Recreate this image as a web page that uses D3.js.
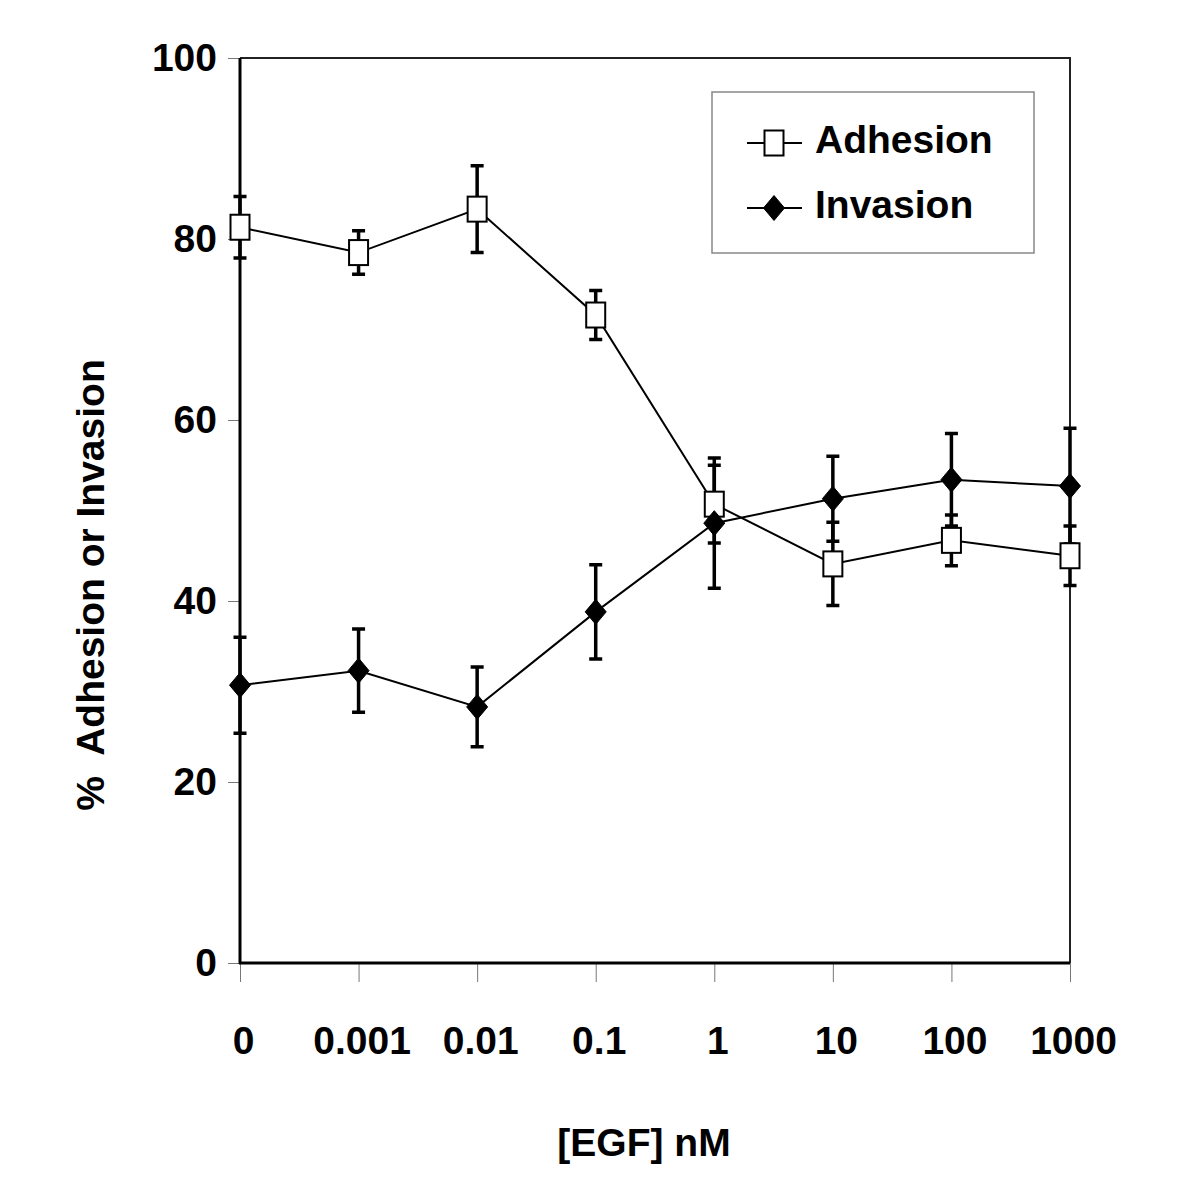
<!DOCTYPE html>
<html>
<head>
<meta charset="utf-8">
<script src="https://cdn.jsdelivr.net/npm/d3@7/dist/d3.min.js"></script>
<style>
  html, body { margin: 0; padding: 0; background: #fff; }
  svg text { font-family: "Liberation Sans", Arial, sans-serif; font-weight: bold; fill: #000; }
</style>
</head>
<body>
<svg id="chart" width="1200" height="1200"></svg>
<script>
// ---- data ----
const categories = ["0", "0.001", "0.01", "0.1", "1", "10", "100", "1000"];
const adhesion = [81.3, 78.5, 83.3, 71.6, 50.7, 44.1, 46.7, 45.0];
const adhesionErr = [3.4, 2.4, 4.8, 2.7, 4.3, 4.6, 2.8, 3.3];
const invasion = [30.7, 32.3, 28.3, 38.8, 48.6, 51.3, 53.4, 52.7];
const invasionErr = [5.3, 4.6, 4.4, 5.2, 7.2, 4.7, 5.1, 6.4];
const yTicks = [0, 20, 40, 60, 80, 100];
const seriesNames = ["Adhesion", "Invasion"];
const xTitle = "[EGF] nM";
const yTitle = "%  Adhesion or Invasion";

// ---- layout ----
const svg = d3.select("#chart");
const pLeft = 240, pRight = 1070, pTop = 58, pBottom = 963;

const x = d3.scalePoint().domain(categories).range([pLeft, pRight]).padding(0);
const y = d3.scaleLinear().domain([0, 100]).range([pBottom, pTop]);

// frame top/right
svg.append("path")
  .attr("d", `M${pLeft},${pTop}H${pRight}V${pBottom}`)
  .attr("fill", "none").attr("stroke", "#222").attr("stroke-width", 2);

// y axis
const yAxis = svg.append("g").attr("transform", `translate(${pLeft},0)`)
  .call(d3.axisLeft(y).tickValues(yTicks).tickSize(12).tickPadding(11));
yAxis.select(".domain").remove();
yAxis.selectAll(".tick line").attr("stroke", "#777").attr("stroke-width", 1);
yAxis.selectAll(".tick text").attr("font-size", 39).attr("font-family", null).attr("fill", "#000");

// x axis
const xAxis = svg.append("g").attr("transform", `translate(0,${pBottom})`)
  .call(d3.axisBottom(x).tickSize(19).tickPadding(44));
xAxis.select(".domain").remove();
xAxis.selectAll(".tick line").attr("stroke", "#777").attr("stroke-width", 1);
xAxis.selectAll(".tick text").attr("font-size", 39).attr("font-family", null).attr("fill", "#000").attr("dx", 3);

// main axis lines
svg.append("line").attr("x1", pLeft).attr("x2", pLeft).attr("y1", pTop).attr("y2", pBottom + 1)
  .attr("stroke", "#000").attr("stroke-width", 3);
svg.append("line").attr("x1", pLeft - 1).attr("x2", pRight).attr("y1", pBottom).attr("y2", pBottom)
  .attr("stroke", "#000").attr("stroke-width", 3);

// titles
svg.append("text").attr("x", 644).attr("y", 1156).attr("text-anchor", "middle")
  .attr("font-size", 39).text(xTitle);
svg.append("text").attr("transform", "translate(104,585) rotate(-90)")
  .attr("text-anchor", "middle").attr("font-size", 39)
  .style("white-space", "pre").text(yTitle);

// ---- series ----
const dataA = categories.map((c, i) => ({ c, v: adhesion[i], e: adhesionErr[i] }));
const dataI = categories.map((c, i) => ({ c, v: invasion[i], e: invasionErr[i] }));

const line = d3.line().x(d => x(d.c)).y(d => y(d.v));
[dataA, dataI].forEach(data => {
  svg.append("path").datum(data).attr("d", line)
    .attr("fill", "none").attr("stroke", "#000").attr("stroke-width", 2);
});

// error bars
const capW = 13;
[dataA, dataI].forEach(data => {
  const g = svg.append("g").attr("stroke", "#000").attr("stroke-width", 3.5).attr("fill", "none");
  data.forEach(d => {
    const cx = x(d.c), y1 = y(d.v + d.e), y2 = y(d.v - d.e);
    g.append("path").attr("d",
      `M${cx},${y1}V${y2}M${cx - capW / 2},${y1}H${cx + capW / 2}M${cx - capW / 2},${y2}H${cx + capW / 2}`);
  });
});

// markers
const sqW = 19, sqH = 25, dmW = 21, dmH = 25;
function square(g, cx, cy) {
  g.append("rect").attr("x", cx - sqW / 2).attr("y", cy - sqH / 2)
    .attr("width", sqW).attr("height", sqH)
    .attr("fill", "#fff").attr("stroke", "#000").attr("stroke-width", 2);
}
function diamond(g, cx, cy) {
  g.append("path").attr("d",
    `M${cx},${cy - dmH / 2}L${cx + dmW / 2},${cy}L${cx},${cy + dmH / 2}L${cx - dmW / 2},${cy}Z`)
    .attr("fill", "#000").attr("stroke", "#000").attr("stroke-width", 1);
}
const mg = svg.append("g");
dataA.forEach(d => square(mg, x(d.c), y(d.v)));
dataI.forEach(d => diamond(mg, x(d.c), y(d.v)));

// ---- legend ----
const lg = svg.append("g");
lg.append("rect").attr("x", 712).attr("y", 92).attr("width", 322).attr("height", 161)
  .attr("fill", "#fff").attr("stroke", "#888").attr("stroke-width", 1.5);
const legendRows = [143, 208];
seriesNames.forEach((name, i) => {
  const ly = legendRows[i];
  lg.append("line").attr("x1", 747).attr("x2", 802).attr("y1", ly).attr("y2", ly)
    .attr("stroke", "#000").attr("stroke-width", 2);
  if (i === 0) square(lg, 774, ly); else diamond(lg, 774, ly);
  lg.append("text").attr("x", 815).attr("y", ly + 10).attr("font-size", 39).text(name);
});
</script>
</body>
</html>
